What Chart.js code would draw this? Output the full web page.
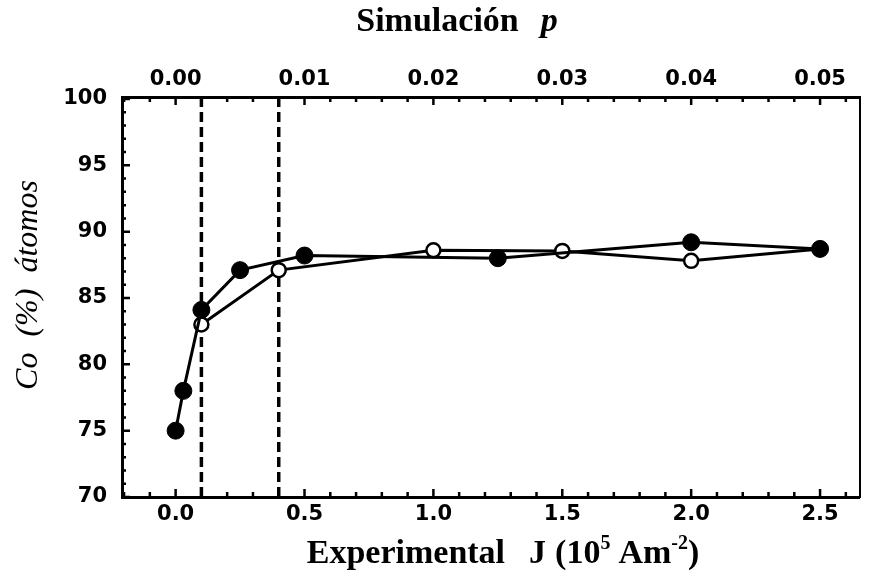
<!DOCTYPE html>
<html>
<head>
<meta charset="utf-8">
<script src="https://cdn.jsdelivr.net/npm/chart.js@4.4.0/dist/chart.umd.min.js"></script>
<style>
    html, body { margin: 0; padding: 0; background: #fff; }
    #wrap { width: 869px; height: 582px; }
</style>
</head>
<body>
<div id="wrap"><canvas id="coChart"></canvas></div>
<script>
// experimental series (filled circles)
const expJ  = [0.0, 0.03, 0.1, 0.25, 0.5, 1.25, 2.0, 2.5];
const expCo = [75.0, 78.0, 84.1, 87.1, 88.2, 88.0, 89.2, 88.7];

// simulation series (open circles)
const simJ  = [0.1, 0.4, 1.0, 1.5, 2.0, 2.5];
const simCo = [83.0, 87.1, 88.6, 88.55, 87.8, 88.7];

// dashed vertical reference lines
const markJ = [0.1, 0.4];

// tick labels
const jLabels  = [0.0, 0.5, 1.0, 1.5, 2.0, 2.5];
const pLabels  = [0.00, 0.01, 0.02, 0.03, 0.04, 0.05];
const coLabels = [70, 75, 80, 85, 90, 95, 100];

// axis ranges
const xMin = -0.208, xMax = 2.653;
const yMin = 70, yMax = 100.15;
const pPerJ = 1 / 50;

const tickFont = { family: "'DejaVu Sans', sans-serif", size: 21, weight: 'bold' };
const serif = "'Liberation Serif', 'Times New Roman', serif";

function toPoints(xs, ys) {
    return xs.map((x, i) => ({ x: x, y: ys[i] }));
}

// inward tick marks on the three framed sides
const innerTicks = {
    id: 'innerTicks',
    afterDraw(chart) {
        const ctx = chart.ctx, a = chart.chartArea;
        const sx = chart.scales.x, sp = chart.scales.x2, sy = chart.scales.y;
        ctx.save();
        ctx.strokeStyle = '#000';
        ctx.lineWidth = 2.5;
        ctx.beginPath();
        for (let i = -2; i <= 26; i++) {
            const major = i % 5 === 0;
            const bx = sx.getPixelForValue(i / 10);
            ctx.moveTo(bx, a.bottom);
            ctx.lineTo(bx, a.bottom - (major ? 8 : 5));
            const tx = sp.getPixelForValue(i / 10 * pPerJ);
            ctx.moveTo(tx, a.top);
            ctx.lineTo(tx, a.top + (major ? 8 : 5));
        }
        for (let v = 70; v <= 100; v++) {
            const py = sy.getPixelForValue(v);
            ctx.moveTo(a.left, py);
            ctx.lineTo(a.left + (v % 5 === 0 ? 8 : 4), py);
        }
        ctx.stroke();
        ctx.restore();
    }
};

function drawRuns(ctx, runs, cx, baseline) {
    let total = 0;
    runs.forEach(r => {
        ctx.font = r.font;
        r.w = ctx.measureText(r.text).width;
        total += r.w + (r.gap || 0);
    });
    let x = cx - total / 2;
    runs.forEach(r => {
        ctx.font = r.font;
        ctx.fillText(r.text, x, baseline + (r.dy || 0));
        x += r.w + (r.gap || 0);
    });
}

// axis titles with mixed styles
const axisTitles = {
    id: 'axisTitles',
    afterDraw(chart) {
        const ctx = chart.ctx;
        ctx.save();
        ctx.fillStyle = '#000';
        ctx.textBaseline = 'alphabetic';
        ctx.textAlign = 'left';

        drawRuns(ctx, [
            { text: 'Simulación', font: 'bold 34px ' + serif, gap: 22 },
            { text: 'p', font: 'italic bold 34px ' + serif }
        ], 457, 31);

        drawRuns(ctx, [
            { text: 'Experimental', font: 'bold 34px ' + serif, gap: 24 },
            { text: 'J', font: 'bold 34px ' + serif, gap: 9 },
            { text: '(10', font: 'bold 34px ' + serif },
            { text: '5', font: 'bold 20px ' + serif, dy: -14, gap: 8 },
            { text: 'Am', font: 'bold 34px ' + serif },
            { text: '-2', font: 'bold 20px ' + serif, dy: -14 },
            { text: ')', font: 'bold 34px ' + serif }
        ], 503, 563);

        ctx.translate(27, 285);
        ctx.rotate(-Math.PI / 2);
        drawRuns(ctx, [
            { text: 'Co', font: 'italic 32px ' + serif, gap: 16 },
            { text: '(%)', font: 'italic 32px ' + serif, gap: 16 },
            { text: 'átomos', font: 'italic 32px ' + serif }
        ], 0, 10);
        ctx.restore();
    }
};

const datasets = [
    {
        label: 'Experimental',
        data: toPoints(expJ, expCo),
        borderColor: '#000',
        borderWidth: 3,
        pointRadius: 8.5,
        pointBackgroundColor: '#000',
        pointBorderColor: '#000',
        pointBorderWidth: 1,
        tension: 0
    },
    {
        label: 'Simulación',
        data: toPoints(simJ, simCo),
        borderColor: '#000',
        borderWidth: 3,
        pointRadius: 7,
        pointBackgroundColor: '#fff',
        pointBorderColor: '#000',
        pointBorderWidth: 2.5,
        tension: 0
    }
];

markJ.forEach(m => {
    datasets.push({
        label: 'ref ' + m,
        data: [{ x: m, y: yMin }, { x: m, y: yMax }],
        borderColor: '#000',
        borderWidth: 3.5,
        borderDash: [10, 5],
        pointRadius: 0,
        tension: 0
    });
});

new Chart('coChart', {
    type: 'line',
    data: { datasets: datasets },
    options: {
        responsive: true,
        maintainAspectRatio: false,
        animation: false,
        layout: { padding: 0 },
        plugins: {
            legend: { display: false },
            tooltip: { enabled: false }
        },
        scales: {
            x: {
                type: 'linear',
                position: 'bottom',
                min: xMin,
                max: xMax,
                afterBuildTicks: s => { s.ticks = jLabels.map(v => ({ value: v })); },
                afterFit: s => { s.height = 85; },
                ticks: {
                    color: '#000',
                    font: tickFont,
                    padding: 5,
                    maxRotation: 0,
                    callback: v => v.toFixed(1)
                },
                grid: { display: false, drawTicks: false },
                border: { color: '#000', width: 3 }
            },
            x2: {
                type: 'linear',
                position: 'top',
                min: xMin * pPerJ,
                max: xMax * pPerJ,
                afterBuildTicks: s => { s.ticks = pLabels.map(v => ({ value: v })); },
                afterFit: s => { s.height = 97; },
                ticks: {
                    color: '#000',
                    font: tickFont,
                    padding: 5,
                    maxRotation: 0,
                    callback: v => v.toFixed(2)
                },
                grid: { display: false, drawTicks: false },
                border: { color: '#000', width: 3 }
            },
            y: {
                type: 'linear',
                position: 'left',
                min: yMin,
                max: yMax,
                afterBuildTicks: s => { s.ticks = coLabels.map(v => ({ value: v })); },
                afterFit: s => { s.width = 122; },
                ticks: {
                    color: '#000',
                    font: tickFont,
                    padding: 15
                },
                grid: { display: false, drawTicks: false },
                border: { color: '#000', width: 3 }
            },
            y2: {
                type: 'linear',
                position: 'right',
                min: yMin,
                max: yMax,
                afterFit: s => { s.width = 4; },
                ticks: { display: false },
                grid: { display: false, drawTicks: false },
                border: { color: '#000', width: 2, dash: [3, 5] }
            }
        }
    },
    plugins: [innerTicks, axisTitles]
});
</script>
</body>
</html>
